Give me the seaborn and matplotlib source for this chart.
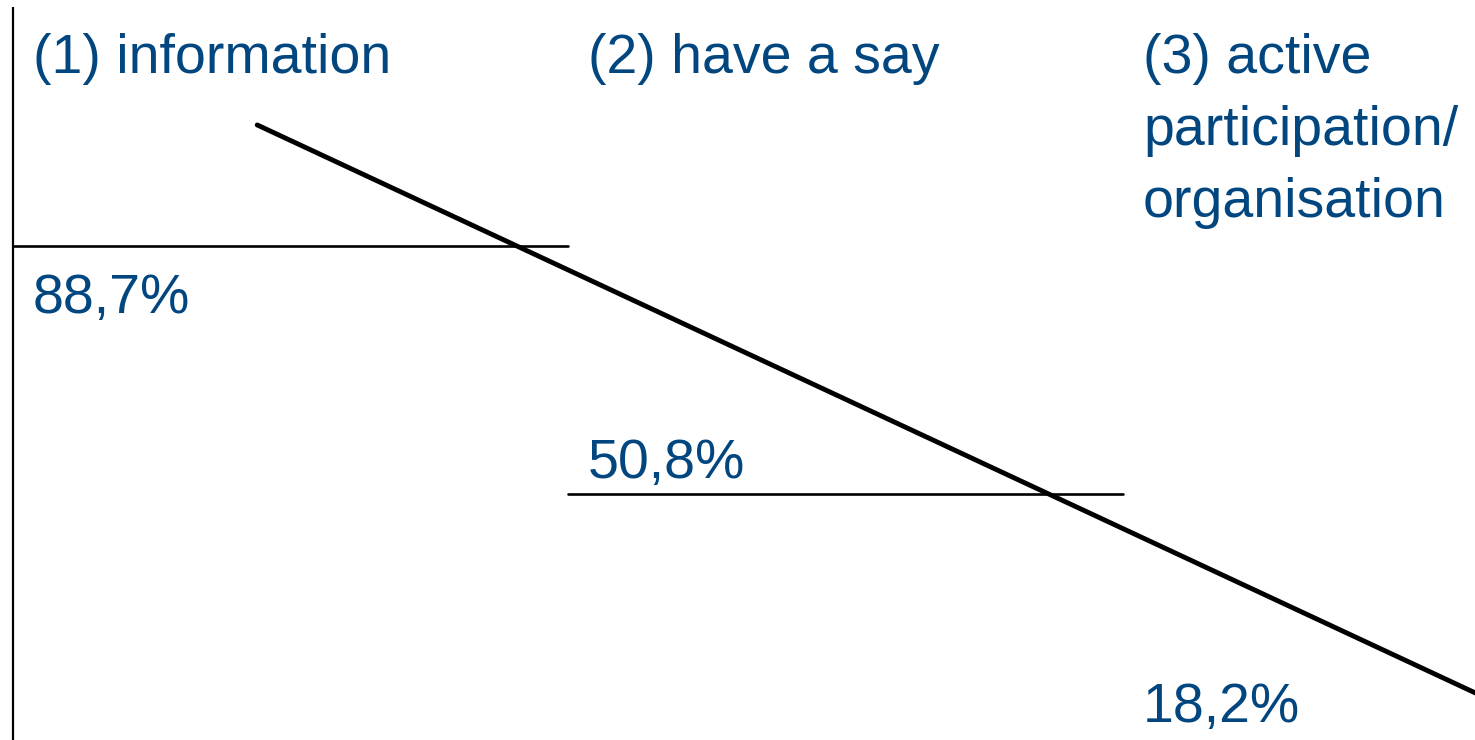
import matplotlib
matplotlib.use("Agg")
import matplotlib.pyplot as plt
import seaborn as sns
import pandas as pd

# ---- data ----
categories = ["(1) information", "(2) have a say", "(3) active\nparticipation/\norganisation"]
shares = [88.7, 50.8, 18.2]
share_labels = ["88,7%", "50,8%", "18,2%"]
trend_x = [0.44, 2.64]
trend_y = [107.2, 20.2]

sns.set_theme(style="white")
plt.rcParams["font.family"] = ["Liberation Sans", "DejaVu Sans"]

W, H = 1475, 740
fig = plt.figure(figsize=(W / 100, H / 100), dpi=100)
ax = fig.add_axes([0, 0, 1, 1])
ax.set_axis_off()

# scales: segment width 555 px, 6.544 px per percentage point
ax.set_xlim(-13 / 555, (W - 13) / 555)
ax.set_ylim(88.7 - (H - 246) / 6.544, 88.7 + 246 / 6.544)

blue = "#02467f"

# vertical axis line
ax.plot([0, 0], [88.7 + (246 - 7) / 6.544, 0], color="black", lw=1.6, solid_capstyle="butt")

# step levels (first two drawn as horizontal lines)
for i, v in enumerate(shares[:2]):
    seg = pd.DataFrame({"x": [i, i + 1], "y": [v, v]})
    sns.lineplot(data=seg, x="x", y="y", ax=ax, color="black", lw=1.9)

# trend line
trend = pd.DataFrame({"x": trend_x, "y": trend_y})
sns.lineplot(data=trend, x="x", y="y", ax=ax, color="black", lw=3.5)

# category labels at the top
for i, c in enumerate(categories):
    ax.annotate(c, xy=(i, 1), xycoords=("data", "axes fraction"),
                xytext=(20, -33), textcoords="offset pixels",
                ha="left", va="top", fontsize=40, color=blue, linespacing=1.5)

# value labels
offsets = [-67, 16, -15]
for i, (v, lab) in enumerate(zip(shares, share_labels)):
    ax.annotate(lab, xy=(i, v), xytext=(20, offsets[i]), textcoords="offset pixels",
                ha="left", va="baseline", fontsize=40, color=blue)

fig.savefig("out.png", dpi=100)
